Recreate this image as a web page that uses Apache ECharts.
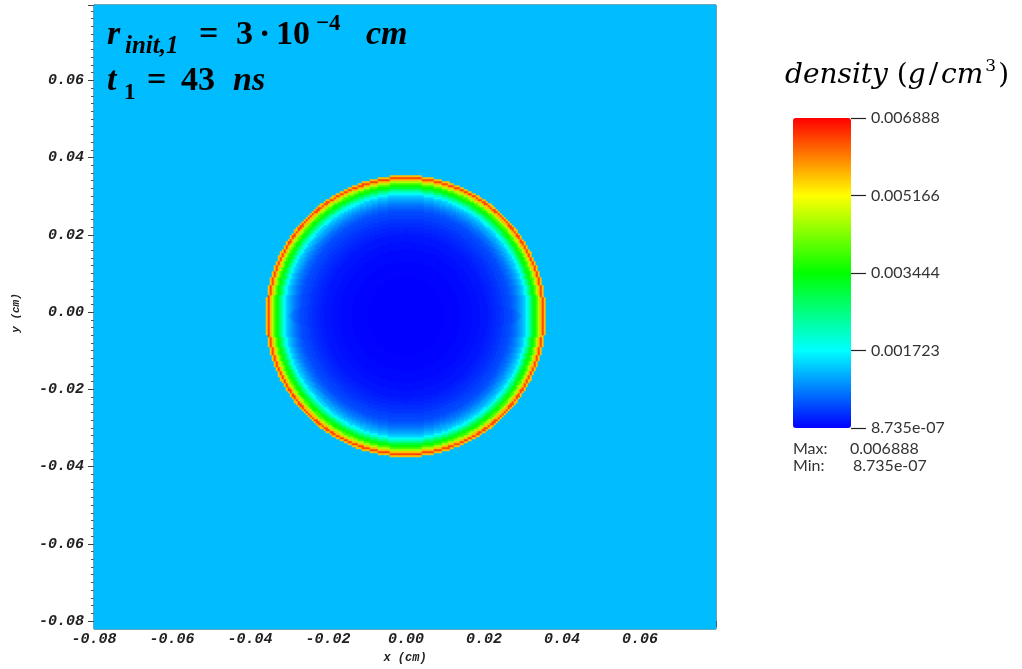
<!DOCTYPE html>
<html>
<head>
<meta charset="utf-8">
<script src="https://cdn.jsdelivr.net/npm/echarts@6/dist/echarts.min.js"></script>
<style>
  html, body { margin: 0; height: 100%; background: #fff; }
  #main { width: 1022px; height: 669px; }
</style>
</head>
<body>
<div id="main"></div>
<script>
// simulation box (cm) and number of cells
var xRange = [-0.08, 0.0795];
var yRange = [-0.08, 0.0795];
var nx = 311, ny = 312;

// radial density profile of the bubble: outer radius of each ring (cm), density (g/cm^3)
var profileR = [0.010, 0.014, 0.017, 0.019, 0.021, 0.022, 0.023, 0.024, 0.025, 0.026,
                0.027, 0.0275, 0.028, 0.0285, 0.029, 0.0295, 0.030, 0.0305, 0.031, 0.0315,
                0.032, 0.0325, 0.033, 0.0335, 0.034, 0.0345, 0.035, 0.0355, 0.036];
var profileV = [0.00001, 0.00003, 0.00006, 0.0001, 0.00015, 0.0002, 0.00025, 0.0003, 0.00036, 0.00043,
                0.0005, 0.00058, 0.00066, 0.00075, 0.00085, 0.00097, 0.0011, 0.00125, 0.0014, 0.0017,
                0.0021, 0.0026, 0.0031, 0.0035, 0.0039, 0.0046, 0.0056, 0.0064, 0.0056];
var ambientDensity = 0.00128;

var densMin = 8.735e-7, densMax = 0.006888;
var cbarTicks = [8.735e-7, 0.0017227, 0.0034444, 0.0051662, 0.006888];
var cbarLabels = ['8.735e-07', '0.001723', '0.003444', '0.005166', '0.006888'];
var rainbow = ['#0000ff', '#00ffff', '#00ff00', '#ffff00', '#ff0000'];

function densityAt(r) {
  for (var k = 0; k < profileR.length; k++) {
    if (r <= profileR[k]) return profileV[k];
  }
  return ambientDensity;
}

var dx = (xRange[1] - xRange[0]) / nx;
var dy = (yRange[1] - yRange[0]) / ny;
var xCats = [], yCats = [], cells = [];
for (var i = 0; i < nx; i++) xCats.push(String(i));
for (var j = 0; j < ny; j++) yCats.push(String(j));
for (var i = 0; i < nx; i++) {
  var x = xRange[0] + (i + 0.5) * dx;
  for (var j = 0; j < ny; j++) {
    var y = yRange[0] + (j + 0.5) * dy;
    cells.push([i, j, densityAt(Math.sqrt(x * x + y * y))]);
  }
}

var plotBox = { left: 94, top: 5, width: 622, height: 624 };
var axisFont = { fontFamily: 'Liberation Mono', fontWeight: 'bold', fontStyle: 'italic', color: '#222' };

function mathText(str, x, baseline, size, italic) {
  return {
    type: 'text', x: x, y: baseline - size * 0.34, z: 100, silent: true,
    style: {
      text: str,
      font: (italic ? 'italic ' : '') + 'bold ' + size + 'px "Liberation Serif"',
      fill: '#000', verticalAlign: 'middle'
    }
  };
}
function labelText(str, x, yMid) {
  return {
    type: 'text', x: x, y: yMid, z: 100, silent: true,
    style: { text: str, font: '16px Lato', fill: '#333', verticalAlign: 'middle' }
  };
}

var chart = echarts.init(document.getElementById('main'));
chart.setOption({
  animation: false,
  grid: [
    Object.assign({ show: true, borderColor: '#2b3540', borderWidth: 1 }, plotBox),
    Object.assign({}, plotBox),
    { left: 851, top: 118, width: 60, height: 310 }
  ],
  xAxis: [
    { type: 'category', gridIndex: 0, data: xCats, show: false },
    {
      type: 'value', gridIndex: 1, min: -0.08, max: 0.0795, interval: 0.02,
      name: 'x (cm)', nameLocation: 'middle', nameGap: 31,
      nameTextStyle: Object.assign({ fontSize: 12 }, axisFont),
      axisLine: { onZero: false, lineStyle: { color: '#444' } },
      axisTick: { length: 6, lineStyle: { color: '#444' } },
      minorTick: { show: true, splitNumber: 10, length: 3, lineStyle: { color: '#555' } },
      splitLine: { show: false },
      axisLabel: Object.assign({
        fontSize: 15, margin: 11, showMaxLabel: false,
        formatter: function (v) { return v.toFixed(2); }
      }, axisFont)
    },
    { type: 'value', gridIndex: 2, show: false }
  ],
  yAxis: [
    { type: 'category', gridIndex: 0, data: yCats, show: false },
    {
      type: 'value', gridIndex: 1, min: -0.08, max: 0.0795, interval: 0.02,
      name: 'y (cm)', nameLocation: 'middle', nameGap: 72, nameRotate: 90,
      nameTextStyle: Object.assign({ fontSize: 11 }, axisFont),
      axisLine: { onZero: false, lineStyle: { color: '#444' } },
      axisTick: { length: 6, lineStyle: { color: '#444' } },
      minorTick: { show: true, splitNumber: 10, length: 3, lineStyle: { color: '#555' } },
      splitLine: { show: false },
      axisLabel: Object.assign({
        fontSize: 15, margin: 10, showMaxLabel: false,
        formatter: function (v) { return v.toFixed(2); }
      }, axisFont)
    },
    {
      type: 'value', gridIndex: 2, position: 'left', min: densMin, max: densMax,
      axisLine: { show: false },
      splitLine: { show: false },
      axisTick: { show: true, inside: true, length: 15, customValues: cbarTicks, lineStyle: { color: '#222', width: 1.2 } },
      axisLabel: {
        inside: true, customValues: cbarTicks, margin: 20, fontFamily: 'Lato', fontSize: 16, color: '#333',
        formatter: function (v) {
          var best = 0;
          for (var k = 1; k < cbarTicks.length; k++) {
            if (Math.abs(cbarTicks[k] - v) < Math.abs(cbarTicks[best] - v)) best = k;
          }
          return cbarLabels[best];
        }
      }
    }
  ],
  visualMap: {
    type: 'continuous', min: densMin, max: densMax, seriesIndex: 0,
    left: 793, top: 118, itemWidth: 58, itemHeight: 310, padding: 0,
    calculable: false, hoverLink: false,
    inRange: { color: rainbow }
  },
  series: [{
    type: 'heatmap', xAxisIndex: 0, yAxisIndex: 0, data: cells,
    progressive: 0, silent: true, emphasis: { disabled: true }
  }],
  graphic: [
    mathText('r', 107, 47, 34, true),
    mathText('init,1', 125, 55, 25, true),
    mathText('=', 199, 47, 34, false),
    mathText('3', 236, 47, 34, false),
    mathText('\u00b7', 259, 47, 34, false),
    mathText('10', 276, 47, 34, false),
    mathText('\u22124', 316, 32, 23, false),
    mathText('cm', 366, 47, 34, true),
    mathText('t', 107, 93, 34, true),
    mathText('1', 124, 101, 23, false),
    mathText('=', 147, 93, 34, false),
    mathText('43', 181, 93, 34, false),
    mathText('ns', 233, 93, 34, true),
    {
      type: 'text', x: 785, y: 58, z: 100, silent: true,
      style: {
        text: '{i|density}{u| (}{i|g}{p|/}{i|cm}{s|3}{u|)}',
        fill: '#000',
        rich: {
          i: { fontFamily: 'DejaVu Serif', fontStyle: 'italic', fontSize: 28, verticalAlign: 'bottom', lineHeight: 32 },
          u: { fontFamily: 'DejaVu Serif', fontSize: 28, verticalAlign: 'bottom', lineHeight: 32 },
          p: { fontFamily: 'DejaVu Serif', fontSize: 28, verticalAlign: 'bottom', lineHeight: 32, padding: [0, 3, 0, 3] },
          s: { fontFamily: 'DejaVu Serif', fontSize: 17, verticalAlign: 'top', lineHeight: 18, padding: [0, 2, 0, 2] }
        }
      }
    },
    labelText('Max:', 793, 449),
    labelText(String(densMax), 850, 449),
    labelText('Min:', 793, 466),
    labelText('8.735e-07', 853, 466)
  ]
});
</script>
</body>
</html>
